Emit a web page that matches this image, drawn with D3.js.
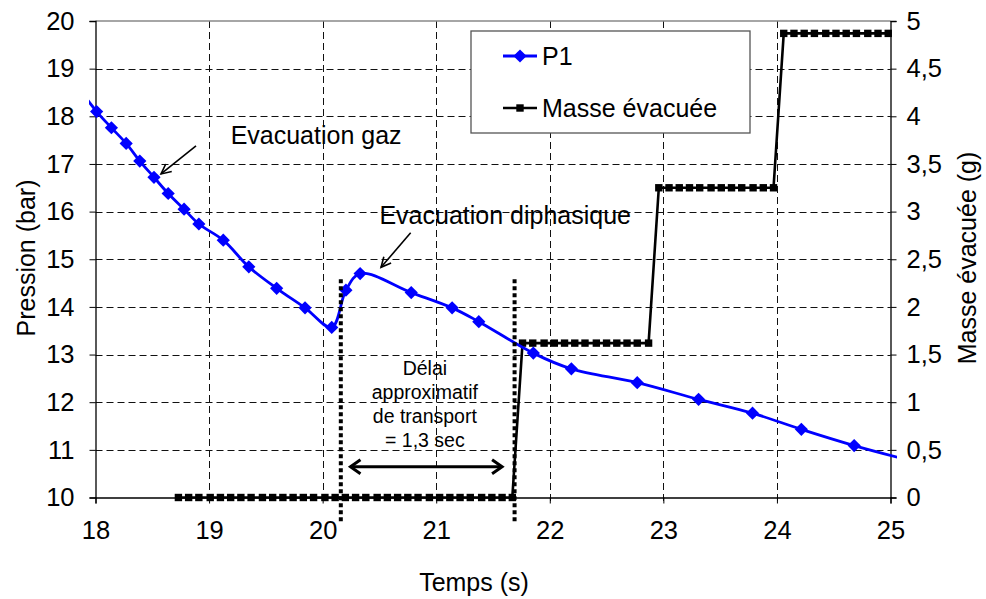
<!DOCTYPE html>
<html><head><meta charset="utf-8">
<script src="https://cdn.jsdelivr.net/npm/d3@7"></script>
<style>
body{margin:0;background:#fff;}
text{font-family:"Liberation Sans",Arial,sans-serif;fill:#000;}
</style></head>
<body><svg id="c" width="986" height="599"></svg>
<script>
// ---- data ----
const p1Time = [17.88, 18.01, 18.14, 18.27, 18.39, 18.515, 18.64, 18.78, 18.91, 19.125, 19.35, 19.595, 19.845, 20.08, 20.205, 20.33, 20.78, 21.14, 21.375, 21.855, 22.19, 22.77, 23.31, 23.785, 24.215, 24.68, 25.15];
const p1Value = [18.50, 18.10, 17.76, 17.43, 17.06, 16.72, 16.38, 16.05, 15.74, 15.40, 14.84, 14.39, 13.98, 13.57, 14.35, 14.70, 14.30, 13.98, 13.69, 13.03, 12.70, 12.41, 12.06, 11.77, 11.43, 11.09, 10.79];
const massTime = [18.73, 18.82, 18.91, 19.01, 19.10, 19.19, 19.28, 19.37, 19.47, 19.56, 19.65, 19.74, 19.83, 19.92, 20.02, 20.11, 20.20, 20.29, 20.38, 20.48, 20.57, 20.66, 20.75, 20.84, 20.94, 21.03, 21.12, 21.21, 21.30, 21.40, 21.49, 21.58, 21.67,
  21.76, 21.85, 21.95, 22.04, 22.13, 22.22, 22.31, 22.41, 22.50, 22.59, 22.68, 22.77, 22.87,
  22.96, 23.05, 23.14, 23.23, 23.32, 23.42, 23.51, 23.60, 23.69, 23.79, 23.88, 23.97,
  24.06, 24.15, 24.24, 24.33, 24.43, 24.52, 24.61, 24.70, 24.80, 24.89, 24.98];
const massValue = [0,0,0,0,0,0,0,0,0,0,0,0,0,0,0,0,0,0,0,0,0,0,0,0,0,0,0,0,0,0,0,0,0,
  1.62,1.62,1.62,1.62,1.62,1.62,1.62,1.62,1.62,1.62,1.62,1.62,1.62,
  3.25,3.25,3.25,3.25,3.25,3.25,3.25,3.25,3.25,3.25,3.25,3.25,
  4.87,4.87,4.87,4.87,4.87,4.87,4.87,4.87,4.87,4.87,4.87];
const xTicks = [18, 19, 20, 21, 22, 23, 24, 25];
const leftTicks = [10, 11, 12, 13, 14, 15, 16, 17, 18, 19, 20];
const rightTicks = [0, 0.5, 1, 1.5, 2, 2.5, 3, 3.5, 4, 4.5, 5];
const rightTickLabels = ["0", "0,5", "1", "1,5", "2", "2,5", "3", "3,5", "4", "4,5", "5"];
const seriesNames = ["P1", "Masse évacuée"];
const xTitle = "Temps (s)", yLeftTitle = "Pression (bar)", yRightTitle = "Masse évacuée (g)";
const annoGaz = "Evacuation gaz", annoDiph = "Evacuation diphasique";
const delaiLines = ["Délai", "approximatif", "de transport", "= 1,3 sec"];

// ---- layout ----
const svg = d3.select("#c");
const L = 95.5, R = 890.5, T = 21, B = 497.5;
const x = d3.scaleLinear().domain([18, 25]).range([L, R]);
const yL = d3.scaleLinear().domain([10, 20]).range([B, T]);
const yR = d3.scaleLinear().domain([0, 5]).range([B, T]);
const FONT = 25.5;

// grid
const g = svg.append("g");
g.selectAll("line.vg").data(xTicks.filter(d => d > 18 && d < 25)).join("line")
  .attr("x1", d => Math.round(x(d)) + 0.5).attr("x2", d => Math.round(x(d)) + 0.5)
  .attr("y1", T).attr("y2", B + 6).attr("stroke", "#111").attr("stroke-dasharray", "7,4");
g.selectAll("line.hg").data(leftTicks.filter(d => d > 10 && d < 20)).join("line")
  .attr("y1", d => Math.round(yL(d)) + 0.5).attr("y2", d => Math.round(yL(d)) + 0.5)
  .attr("x1", L).attr("x2", R).attr("stroke", "#111").attr("stroke-dasharray", "7,4");
g.append("line").attr("x1", L).attr("x2", R).attr("y1", T).attr("y2", T).attr("stroke", "#888").attr("stroke-width", 1.5);

// axes
const axL = svg.append("g").attr("transform", `translate(${L},0)`)
  .call(d3.axisLeft(yL).tickValues(leftTicks).tickSize(6).tickPadding(15).tickFormat(d3.format("d")));
const axR = svg.append("g").attr("transform", `translate(${R},0)`)
  .call(d3.axisRight(yR).tickValues(rightTicks).tickSize(6).tickPadding(10).tickFormat((d, i) => rightTickLabels[i]));
const axB = svg.append("g").attr("transform", `translate(0,${B})`)
  .call(d3.axisBottom(x).tickValues(xTicks).tickSize(6).tickPadding(17).tickFormat(d3.format("d")));
[axL, axR, axB].forEach(a => {
  a.select(".domain").attr("stroke", "#000").attr("stroke-width", 1.3);
  a.selectAll(".tick line").attr("stroke", "#000");
  a.selectAll("text").attr("font-size", FONT).attr("font-family", '"Liberation Sans",Arial,sans-serif');
});

// clip
svg.append("clipPath").attr("id", "clp").append("rect").attr("x", 89).attr("y", 0).attr("width", 897 - 89).attr("height", 599);

// mass series
const massData = massTime.map((t, i) => ({t, v: massValue[i]}));
svg.append("path").datum(massData)
  .attr("d", d3.line().x(d => x(d.t)).y(d => yR(d.v)))
  .attr("fill", "none").attr("stroke", "#000").attr("stroke-width", 2.6);
const SQ = 7.4;
svg.append("g").selectAll("rect").data(massData).join("rect")
  .attr("x", d => x(d.t) - SQ / 2).attr("y", d => yR(d.v) - SQ / 2).attr("width", SQ).attr("height", SQ).attr("fill", "#000");

// P1 series
const p1Data = p1Time.map((t, i) => ({t, v: p1Value[i]}));
svg.append("path").datum(p1Data).attr("clip-path", "url(#clp)")
  .attr("d", d3.line().curve(d3.curveCatmullRom.alpha(0.5)).x(d => x(d.t)).y(d => yL(d.v)))
  .attr("fill", "none").attr("stroke", "#0000ff").attr("stroke-width", 2.8);
const diamond = s => `M0,${-s}L${s},0L0,${s}L${-s},0Z`;
svg.append("g").selectAll("path").data(p1Data.filter(d => d.t >= 18 && d.t <= 25)).join("path")
  .attr("transform", d => `translate(${x(d.t)},${yL(d.v)})`).attr("d", diamond(6.6)).attr("fill", "#0000ff");

// dotted delay lines
const delayT = [20.16, 21.69];
svg.append("g").selectAll("line").data(delayT).join("line")
  .attr("x1", d => x(d)).attr("x2", d => x(d)).attr("y1", yL(14.58)).attr("y2", yL(9.47))
  .attr("stroke", "#000").attr("stroke-width", 4).attr("stroke-dasharray", "4,3");

// double arrow
const ay = yL(10.645), ax1 = x(20.245), ax2 = x(21.58);
svg.append("line").attr("x1", ax1 + 1).attr("x2", ax2 - 1).attr("y1", ay).attr("y2", ay).attr("stroke", "#000").attr("stroke-width", 3);
svg.append("path").attr("d", `M${ax1 + 10},${ay - 7}L${ax1},${ay}L${ax1 + 10},${ay + 7}M${ax2 - 10},${ay - 7}L${ax2},${ay}L${ax2 - 10},${ay + 7}`)
  .attr("fill", "none").attr("stroke", "#000").attr("stroke-width", 3).attr("stroke-linejoin", "miter");

// annotation arrows
function arrow(x1, y1, x2, y2) {
  const a = Math.atan2(y2 - y1, x2 - x1), h = 11, w = 0.45;
  svg.append("line").attr("x1", x1).attr("y1", y1).attr("x2", x2).attr("y2", y2).attr("stroke", "#000").attr("stroke-width", 1.6);
  svg.append("path").attr("d", `M${x2 - h * Math.cos(a - w)},${y2 - h * Math.sin(a - w)}L${x2},${y2}L${x2 - h * Math.cos(a + w)},${y2 - h * Math.sin(a + w)}`)
    .attr("fill", "none").attr("stroke", "#000").attr("stroke-width", 1.6);
}
arrow(x(18.885), yL(17.38), x(18.577), yL(16.79));
arrow(x(20.775), yL(15.557), x(20.514), yL(14.83));
svg.append("text").attr("x", x(19.19)).attr("y", yL(17.42)).attr("font-size", 25).text(annoGaz);
svg.append("text").attr("x", x(20.50)).attr("y", yL(15.74)).attr("font-size", 25).text(annoDiph);
svg.append("g").selectAll("text").data(delaiLines).join("text")
  .attr("x", x(20.90)).attr("y", (d, i) => 375 + i * 24).attr("text-anchor", "middle").attr("font-size", 19.5).text(d => d);

// legend
const lg = svg.append("g");
lg.append("rect").attr("x", 471).attr("y", 31).attr("width", 279).attr("height", 102).attr("fill", "#fff").attr("stroke", "#555").attr("stroke-width", 1.3);
lg.append("line").attr("x1", 503).attr("x2", 537).attr("y1", 56).attr("y2", 56).attr("stroke", "#0000ff").attr("stroke-width", 2.8);
lg.append("path").attr("transform", "translate(520,56)").attr("d", diamond(6.6)).attr("fill", "#0000ff");
lg.append("text").attr("x", 542).attr("y", 65).attr("font-size", 25).text(seriesNames[0]);
lg.append("line").attr("x1", 503).attr("x2", 537).attr("y1", 108).attr("y2", 108).attr("stroke", "#000").attr("stroke-width", 2.6);
lg.append("rect").attr("x", 520 - SQ / 2).attr("y", 108 - SQ / 2).attr("width", SQ).attr("height", SQ).attr("fill", "#000");
lg.append("text").attr("x", 542).attr("y", 117).attr("font-size", 25).text(seriesNames[1]);

// axis titles
svg.append("text").attr("x", 474).attr("y", 591).attr("text-anchor", "middle").attr("font-size", 25).text(xTitle);
svg.append("text").attr("transform", "translate(35,258) rotate(-90)").attr("text-anchor", "middle").attr("font-size", 25).text(yLeftTitle);
svg.append("text").attr("transform", "translate(976,258) rotate(-90)").attr("text-anchor", "middle").attr("font-size", 25).text(yRightTitle);
</script></body></html>
